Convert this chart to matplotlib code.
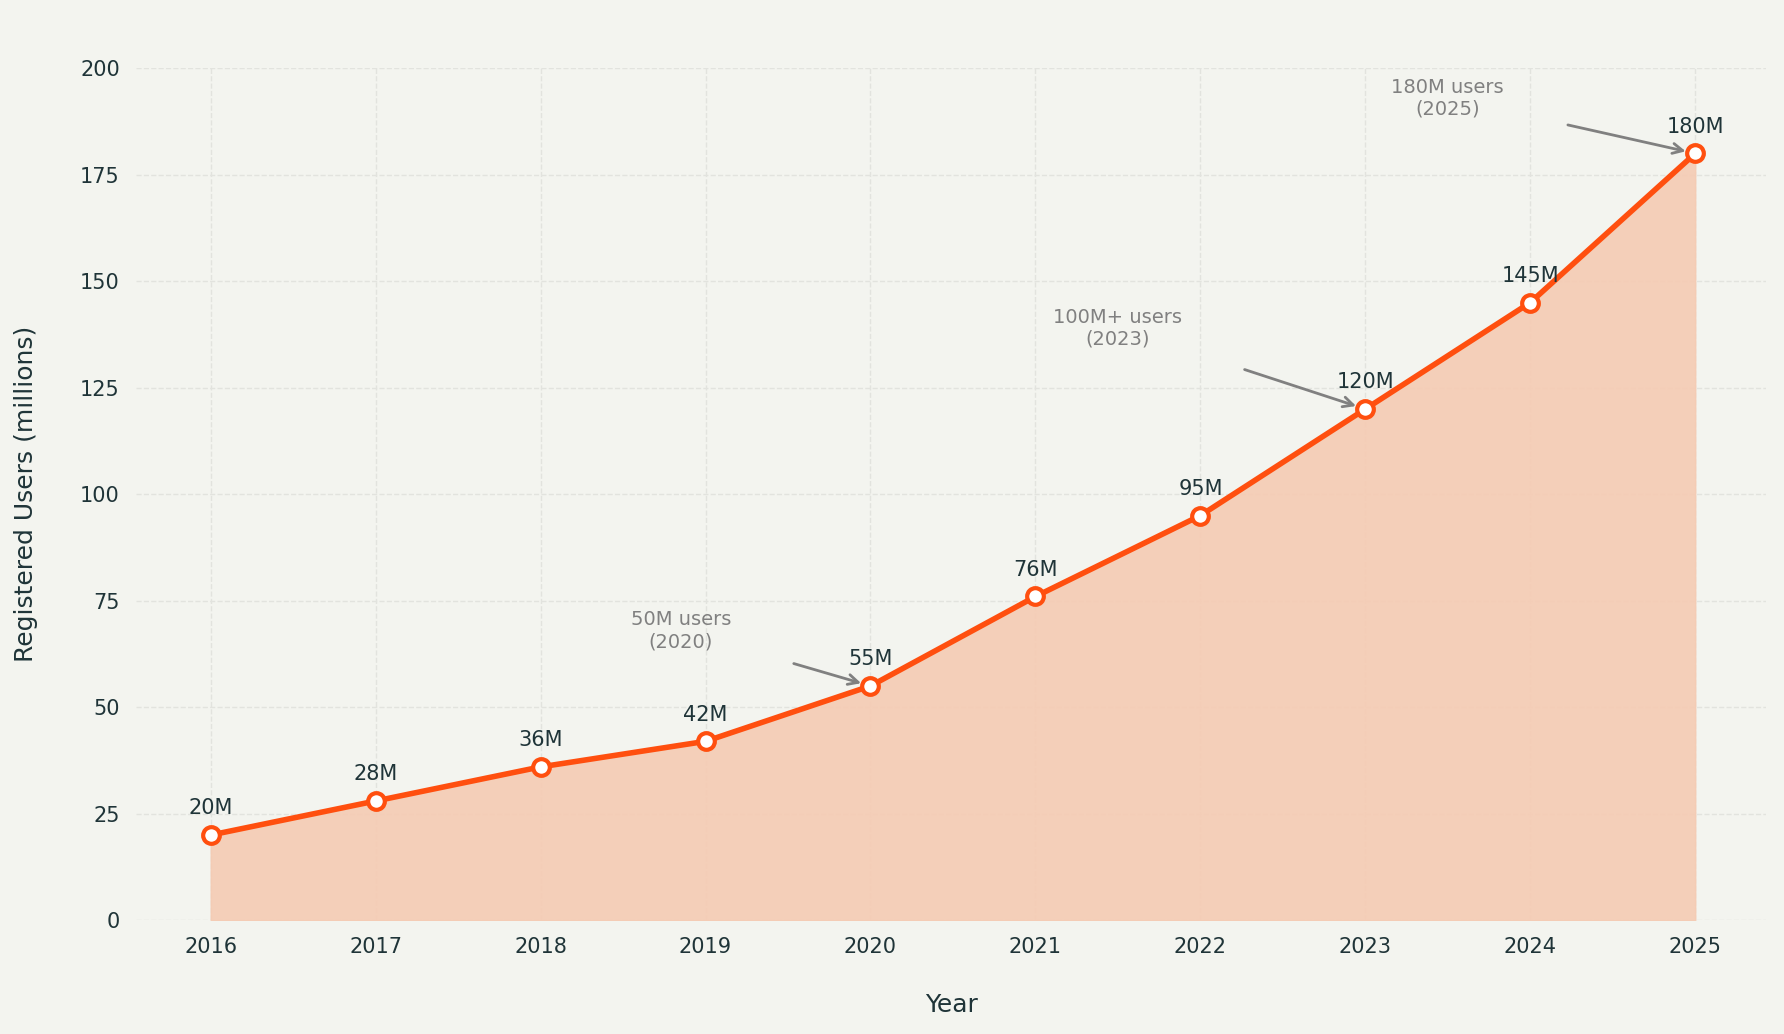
import matplotlib
matplotlib.use("Agg")
import matplotlib.pyplot as plt

years = [2016, 2017, 2018, 2019, 2020, 2021, 2022, 2023, 2024, 2025]
users = [20, 28, 36, 42, 55, 76, 95, 120, 145, 180]
labels = ["20M", "28M", "36M", "42M", "55M", "76M", "95M", "120M", "145M", "180M"]
ann_text = ["50M users\n(2020)", "100M+ users\n(2023)", "180M users\n(2025)"]
ann_xy = [(2020, 55), (2023, 120), (2025, 180)]
ann_txt_xy = [(2018.85, 68), (2021.5, 139), (2023.5, 193)]

bg = "#f3f4ef"
txtc = "#1f3438"
orange = "#ff4f0f"

fig = plt.figure(figsize=(17.84, 10.34), dpi=100, facecolor=bg)
ax = fig.add_axes([0.0765, 0.11, 0.9135, 0.824], facecolor=bg)
ax.fill_between(years, users, 0, color="#f5cbb3", alpha=0.9, zorder=1)
ax.plot(years, users, color=orange, lw=4, zorder=3, marker="o", ms=12,
        mfc="white", mec=orange, mew=3)
for x, y, l in zip(years, users, labels):
    ax.annotate(l, (x, y), xytext=(0, 12), textcoords="offset points",
                ha="center", va="bottom", fontsize=15, color=txtc, zorder=4)
for t, xy, txy in zip(ann_text, ann_xy, ann_txt_xy):
    ax.annotate(t, xy=xy, xytext=txy, ha="center", va="center", fontsize=14,
                color="#808080", zorder=5,
                arrowprops=dict(arrowstyle="->", color="#808080", lw=2,
                                shrinkA=45, shrinkB=7, mutation_scale=18))
ax.set_xlim(2015.55, 2025.43)
ax.set_ylim(0, 200)
ax.set_xticks(years)
ax.set_yticks(range(0, 201, 25))
ax.tick_params(length=0, labelsize=15, colors=txtc, pad=12)
ax.grid(True, ls="--", color="#e2e3de", lw=1)
ax.set_axisbelow(True)
for s in ax.spines.values():
    s.set_visible(False)
ax.set_xlabel("Year", fontsize=18, color=txtc, labelpad=26)
ax.set_ylabel("Registered Users (millions)", fontsize=18, color=txtc, labelpad=30)
fig.savefig("out.png", dpi=100, facecolor=bg)
